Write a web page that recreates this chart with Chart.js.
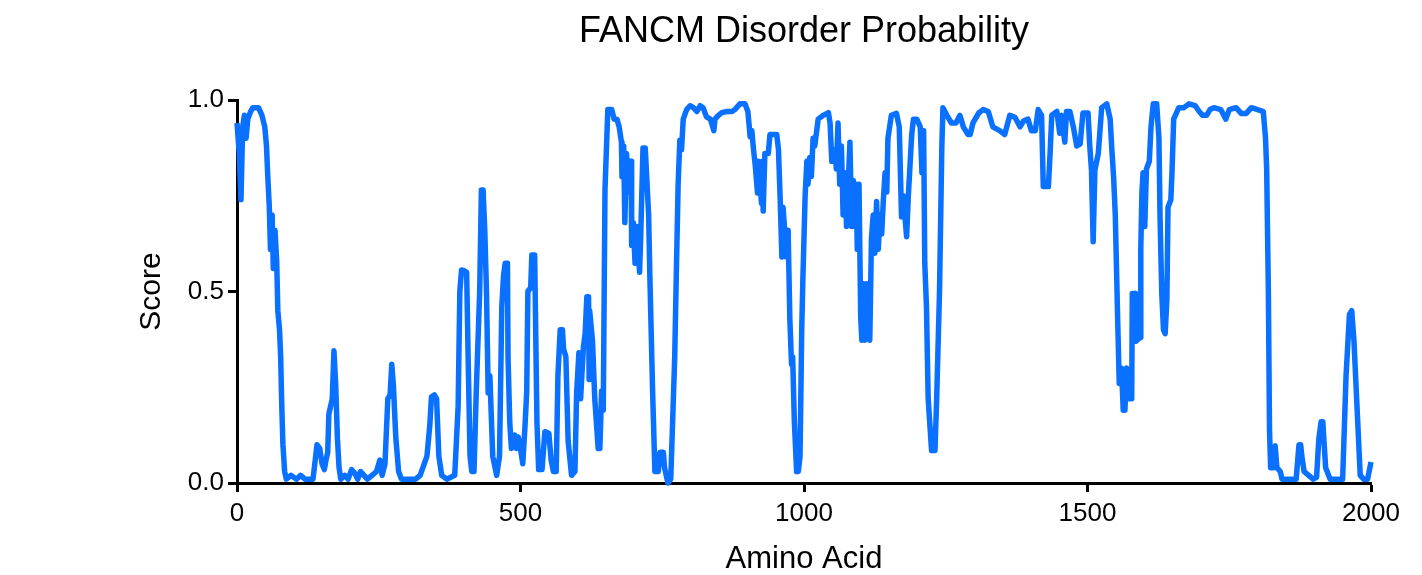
<!DOCTYPE html>
<html>
<head>
<meta charset="utf-8">
<title>FANCM Disorder Probability</title>
<script src="https://cdn.jsdelivr.net/npm/chart.js@4.4.1/dist/chart.umd.min.js"></script>
<style>
  html, body { margin: 0; padding: 0; background: #fff; }
  #wrap { width: 1422px; height: 575px; }
</style>
</head>
<body>
<div id="wrap"><canvas id="disorderChart" width="1422" height="575"></canvas></div>
<script>
// residue positions (amino acid index)
const residue = [
  0, 4, 7, 10, 13, 16, 19, 24, 28, 38, 44, 49, 52, 54, 57, 59, 62, 64, 67, 70,
  72, 75, 77, 79, 81, 84, 87, 95, 105, 112, 120, 134, 138, 141, 146, 150, 154, 157, 160, 162,
  165, 168, 171, 174, 177, 180, 183, 190, 196, 202, 208, 213, 218, 224, 230, 238, 246, 252, 256, 261,
  266, 270, 273, 276, 280, 285, 290, 300, 315, 323, 335, 340, 343, 348, 352, 356, 361, 370, 384, 390,
  393, 396, 400, 405, 408, 411, 414, 418, 422, 428, 431, 434, 437, 440, 443, 446, 451, 458, 463, 467,
  470, 473, 477, 478, 481, 484, 488, 490, 493, 496, 500, 504, 508, 511, 513, 518, 520, 525, 529, 532,
  538, 543, 550, 554, 558, 563, 566, 570, 574, 576, 580, 584, 590, 596, 599, 603, 606, 611, 614, 617,
  620, 621, 622, 627, 631, 637, 640, 643, 646, 649, 654, 661, 665, 670, 674, 678, 679, 682, 684, 687,
  691, 693, 695, 696, 699, 702, 705, 710, 712, 716, 720, 726, 728, 733, 737, 743, 746, 752, 754, 760,
  765, 772, 775, 778, 781, 784, 787, 793, 799, 805, 811, 817, 822, 828, 835, 841, 843, 849, 855, 864,
  873, 878, 887, 896, 901, 905, 908, 911, 914, 918, 920, 925, 927, 928, 931, 937, 940, 947, 952, 955,
  958, 961, 963, 966, 969, 972, 975, 978, 980, 983, 987, 990, 993, 996, 998, 1002, 1005, 1007, 1010, 1013,
  1016, 1019, 1025, 1034, 1043, 1046, 1049, 1055, 1057, 1060, 1063, 1066, 1069, 1072, 1075, 1078, 1081, 1084, 1087, 1090,
  1092, 1094, 1097, 1100, 1102, 1105, 1107, 1111, 1116, 1119, 1122, 1125, 1128, 1131, 1134, 1137, 1140, 1143, 1146, 1148,
  1154, 1163, 1168, 1172, 1175, 1181, 1184, 1190, 1193, 1199, 1205, 1208, 1211, 1213, 1216, 1219, 1225, 1231, 1234, 1239,
  1243, 1245, 1252, 1260, 1268, 1275, 1281, 1289, 1293, 1298, 1308, 1316, 1325, 1333, 1345, 1354, 1363, 1372, 1381, 1387,
  1395, 1401, 1408, 1413, 1419, 1422, 1431, 1434, 1437, 1446, 1451, 1454, 1460, 1463, 1469, 1475, 1481, 1487, 1492, 1501,
  1504, 1507, 1510, 1513, 1519, 1525, 1534, 1540, 1543, 1546, 1549, 1553, 1556, 1560, 1563, 1566, 1569, 1572, 1578, 1579,
  1584, 1585, 1593, 1594, 1596, 1598, 1601, 1604, 1609, 1612, 1616, 1622, 1626, 1628, 1631, 1634, 1637, 1640, 1642, 1647,
  1649, 1652, 1661, 1670, 1679, 1690, 1697, 1703, 1710, 1716, 1723, 1735, 1744, 1750, 1762, 1771, 1780, 1789, 1800, 1810,
  1814, 1816, 1819, 1821, 1823, 1828, 1831, 1834, 1840, 1843, 1868, 1873, 1876, 1878, 1882, 1890, 1898, 1904, 1908, 1912,
  1915, 1920, 1928, 1950, 1956, 1962, 1966, 1970, 1975, 1981, 1987, 1994, 2000
];

// disorder score at each residue above
const score = [
  0.94, 0.86, 0.74, 0.93, 0.96, 0.90, 0.95, 0.97, 0.98, 0.98, 0.96, 0.93, 0.88, 0.81, 0.72, 0.61, 0.70, 0.56, 0.66, 0.58,
  0.45, 0.40, 0.33, 0.20, 0.10, 0.03, 0.01, 0.02, 0.01, 0.02, 0.01, 0.01, 0.06, 0.10, 0.09, 0.05, 0.035, 0.06, 0.08, 0.18,
  0.20, 0.22, 0.345, 0.26, 0.12, 0.04, 0.01, 0.02, 0.01, 0.035, 0.025, 0.01, 0.03, 0.02, 0.01, 0.02, 0.03, 0.06, 0.02, 0.05,
  0.22, 0.23, 0.31, 0.25, 0.12, 0.03, 0.01, 0.01, 0.01, 0.02, 0.07, 0.15, 0.225, 0.23, 0.22, 0.07, 0.02, 0.01, 0.02, 0.20,
  0.50, 0.556, 0.555, 0.55, 0.30, 0.07, 0.03, 0.03, 0.24, 0.50, 0.765, 0.765, 0.66, 0.50, 0.235, 0.28, 0.07, 0.02, 0.07, 0.46,
  0.54, 0.574, 0.574, 0.33, 0.16, 0.09, 0.12, 0.125, 0.09, 0.12, 0.09, 0.05, 0.15, 0.24, 0.50, 0.51, 0.595, 0.595, 0.16, 0.035,
  0.035, 0.134, 0.13, 0.06, 0.03, 0.03, 0.28, 0.40, 0.40, 0.35, 0.33, 0.11, 0.02, 0.03, 0.235, 0.34, 0.22, 0.356, 0.39, 0.486,
  0.486, 0.27, 0.45, 0.37, 0.22, 0.09, 0.09, 0.24, 0.19, 0.765, 0.975, 0.975, 0.95, 0.95, 0.93, 0.89, 0.80, 0.88, 0.68, 0.86,
  0.76, 0.84, 0.84, 0.62, 0.68, 0.574, 0.67, 0.55, 0.64, 0.875, 0.875, 0.70, 0.55, 0.24, 0.03, 0.03, 0.08, 0.08, 0.04, 0.0,
  0.01, 0.33, 0.56, 0.78, 0.895, 0.87, 0.95, 0.975, 0.985, 0.98, 0.97, 0.985, 0.98, 0.956, 0.95, 0.92, 0.95, 0.96, 0.967, 0.97,
  0.97, 0.975, 0.99, 0.99, 0.97, 0.904, 0.92, 0.87, 0.83, 0.757, 0.84, 0.73, 0.84, 0.71, 0.86, 0.86, 0.91, 0.91, 0.91, 0.87,
  0.74, 0.59, 0.72, 0.66, 0.59, 0.66, 0.43, 0.31, 0.33, 0.16, 0.03, 0.03, 0.07, 0.40, 0.53, 0.75, 0.84, 0.78, 0.85, 0.80,
  0.90, 0.88, 0.95, 0.96, 0.967, 0.94, 0.84, 0.87, 0.82, 0.94, 0.78, 0.88, 0.70, 0.81, 0.67, 0.78, 0.89, 0.67, 0.79, 0.67,
  0.78, 0.61, 0.78, 0.434, 0.373, 0.52, 0.373, 0.52, 0.373, 0.64, 0.70, 0.60, 0.735, 0.61, 0.70, 0.65, 0.74, 0.81, 0.76, 0.90,
  0.96, 0.965, 0.93, 0.695, 0.75, 0.643, 0.75, 0.91, 0.95, 0.95, 0.93, 0.81, 0.92, 0.574, 0.46, 0.22, 0.085, 0.085, 0.22, 0.50,
  0.87, 0.98, 0.96, 0.94, 0.94, 0.96, 0.93, 0.91, 0.91, 0.94, 0.966, 0.975, 0.97, 0.93, 0.92, 0.91, 0.96, 0.955, 0.93, 0.945,
  0.95, 0.92, 0.92, 0.975, 0.96, 0.774, 0.774, 0.86, 0.96, 0.97, 0.913, 0.96, 0.89, 0.97, 0.97, 0.93, 0.88, 0.885, 0.966, 0.966,
  0.88, 0.817, 0.63, 0.817, 0.86, 0.98, 0.99, 0.95, 0.87, 0.80, 0.70, 0.44, 0.26, 0.30, 0.19, 0.19, 0.30, 0.22, 0.22, 0.495,
  0.495, 0.37, 0.38, 0.61, 0.76, 0.81, 0.67, 0.82, 0.84, 0.93, 0.99, 0.99, 0.90, 0.69, 0.495, 0.40, 0.39, 0.48, 0.72, 0.74,
  0.81, 0.95, 0.98, 0.98, 0.99, 0.985, 0.97, 0.96, 0.96, 0.975, 0.98, 0.975, 0.95, 0.975, 0.98, 0.965, 0.965, 0.98, 0.975, 0.97,
  0.90, 0.82, 0.50, 0.14, 0.04, 0.04, 0.097, 0.04, 0.03, 0.01, 0.01, 0.10, 0.10, 0.07, 0.03, 0.02, 0.01, 0.015, 0.115, 0.16,
  0.16, 0.04, 0.01, 0.01, 0.28, 0.44, 0.45, 0.37, 0.21, 0.02, 0.01, 0.01, 0.055
];

const xTicks = [0, 500, 1000, 1500, 2000];
const yTicks = [0, 0.5, 1.0];

const fontFamily = "'Liberation Sans', Arial, Helvetica, sans-serif";
const lineBlue = "#0a70ff";

const points = residue.map((r, i) => ({ x: r, y: score[i] }));

new Chart(document.getElementById("disorderChart"), {
  type: "line",
  data: {
    datasets: [{
      label: "Score",
      data: points,
      borderColor: lineBlue,
      borderWidth: 5.5,
      pointRadius: 0,
      tension: 0,
      fill: false,
      clip: false,
      borderJoinStyle: "round",
    }],
  },
  options: {
    responsive: false,
    animation: false,
    devicePixelRatio: 1,
    layout: { padding: { left: 0, right: 51, top: 0, bottom: 0 } },
    plugins: {
      legend: { display: false },
      tooltip: { enabled: false },
      title: {
        display: true,
        text: "FANCM Disorder Probability",
        fullSize: false,
        color: "#000",
        font: { family: fontFamily, size: 36, weight: "normal" },
        padding: { top: 10, bottom: 46.8 },
      },
    },
    scales: {
      x: {
        type: "linear",
        min: 0,
        max: 2000,
        afterBuildTicks: (scale) => { scale.ticks = xTicks.map((v) => ({ value: v })); },
        afterFit: (scale) => { scale.height = 92; },
        border: { display: true, color: "#000", width: 3 },
        grid: { display: true, drawOnChartArea: false, drawTicks: true, tickLength: 9, tickWidth: 3, color: "#000" },
        ticks: {
          color: "#000",
          padding: 6,
          maxRotation: 0,
          font: { family: fontFamily, size: 26 },
          callback: (v) => String(v),
        },
        title: {
          display: true,
          text: "Amino Acid",
          color: "#000",
          font: { family: fontFamily, size: 31 },
          padding: { top: 0, bottom: -3 },
        },
      },
      y: {
        min: 0,
        max: 1,
        afterBuildTicks: (scale) => { scale.ticks = yTicks.map((v) => ({ value: v })); },
        afterFit: (scale) => { scale.width = 237; },
        border: { display: true, color: "#000", width: 3 },
        grid: { display: true, drawOnChartArea: false, drawTicks: true, tickLength: 9, tickWidth: 3, color: "#000" },
        ticks: {
          color: "#000",
          padding: 4,
          font: { family: fontFamily, size: 26 },
          callback: (v) => Number(v).toFixed(1),
        },
        title: {
          display: true,
          text: "Score",
          color: "#000",
          font: { family: fontFamily, size: 30 },
          padding: { top: 134, bottom: 0 },
        },
      },
    },
  },
});
</script>
</body>
</html>
